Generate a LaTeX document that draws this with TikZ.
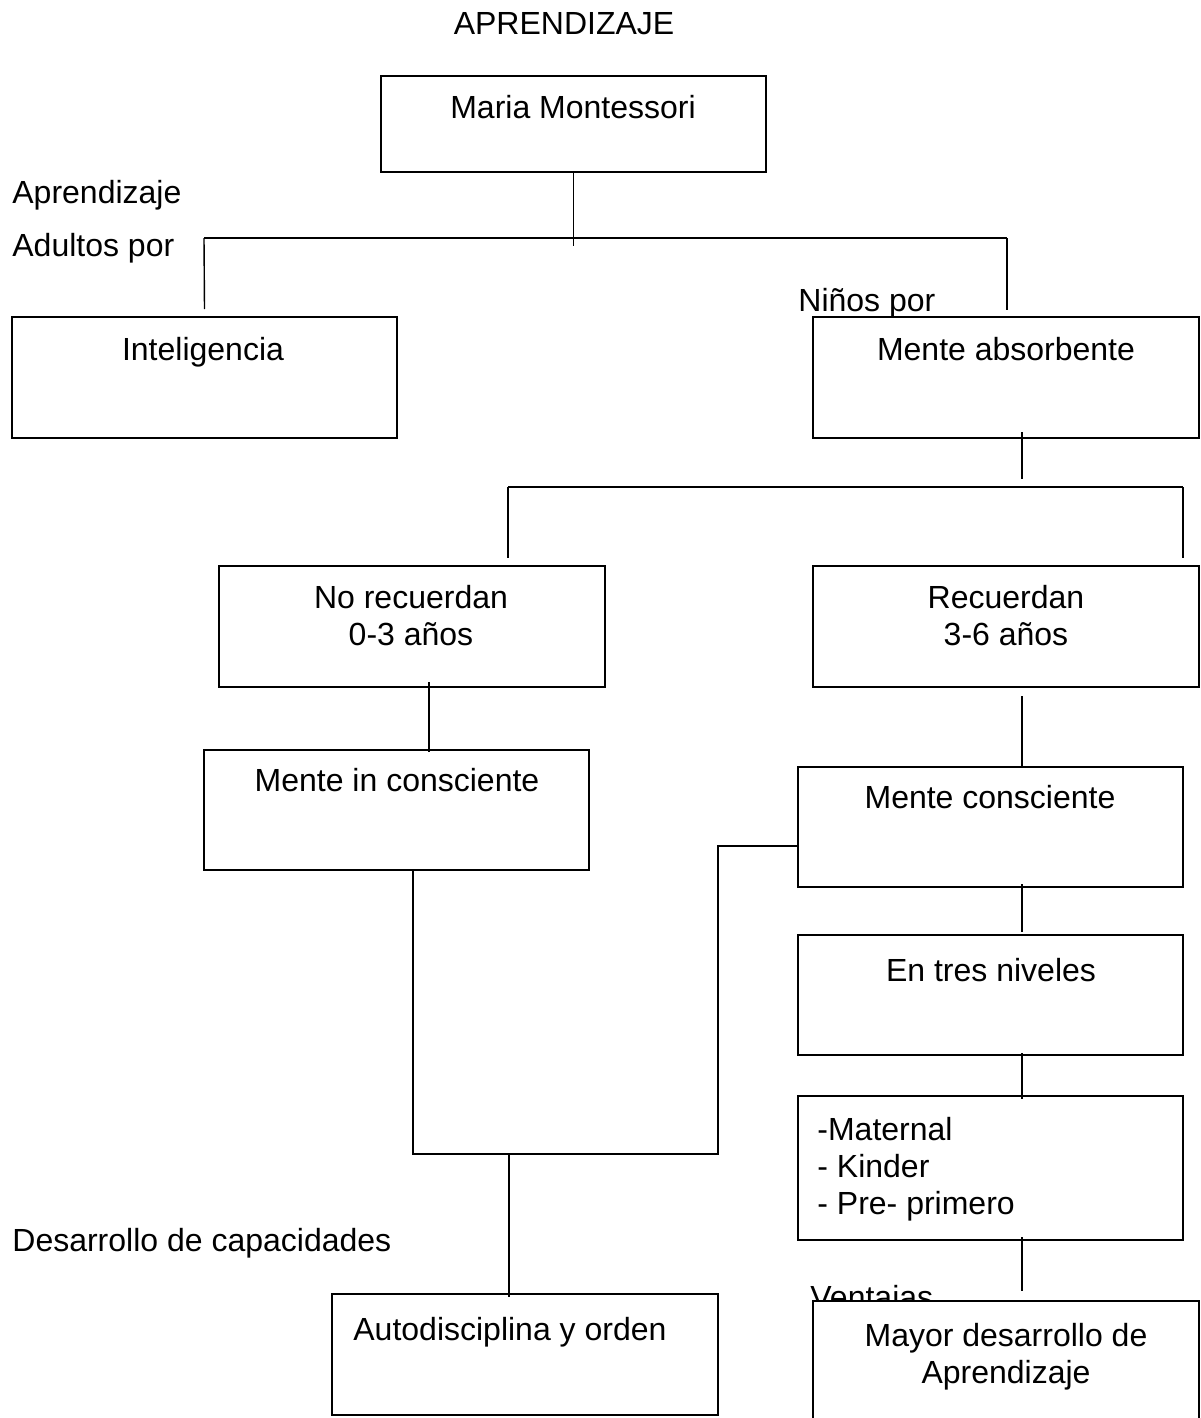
\documentclass[tikz,border=0pt]{standalone}
\usepackage{fontspec}
\setmainfont{Liberation Sans}
\usetikzlibrary{calc}
\begin{document}
\begin{tikzpicture}[x=0.5pt,y=-0.5pt,
  box/.style={draw, line width=1pt, inner sep=0pt},
  txt/.style={inner sep=0pt, font=\fontsize{16}{18.4}\selectfont, align=center, anchor=north},
  ltxt/.style={inner sep=0pt, font=\fontsize{16}{18.4}\selectfont, align=left, anchor=north west},
  conn/.style={line width=0.7pt},
  bar/.style={line width=1pt}]
\fill[white] (0,0) rectangle (1200,1418);
\useasboundingbox (0,0) rectangle (1200,1418);

% title and free labels
\node[txt] (title) at (564,12) {APRENDIZAJE};
\node[ltxt] (lapr) at (12,180) {Aprendizaje};
\node[ltxt] (ladu) at (12,233) {Adultos por};
\node[ltxt] (lnin) at (798,288) {Niños por};
\node[ltxt] (ldes) at (12,1228) {Desarrollo de capacidades};
\node[ltxt] (lven) at (810,1285) {Ventajas};

% boxes
\node[box, minimum width=192.5pt, minimum height=48pt] (maria) at (573.5,124) {};
\node[box, minimum width=192.5pt, minimum height=60.5pt] (intel) at (204.5,377.5) {};
\node[box, minimum width=193pt, minimum height=60.5pt] (absorb) at (1006,377.5) {};
\node[box, minimum width=193pt, minimum height=60.5pt] (norec) at (412,626.5) {};
\node[box, minimum width=193pt, minimum height=60.5pt] (rec) at (1006,626.5) {};
\node[box, minimum width=192.5pt, minimum height=60pt] (incons) at (396.5,810) {};
\node[box, minimum width=192.5pt, minimum height=60pt] (cons) at (990.5,827) {};
\node[box, minimum width=192.5pt, minimum height=60pt] (tres) at (990.5,995) {};
\node[box, minimum width=192.5pt, minimum height=72pt] (niv) at (990.5,1168) {};
\node[box, minimum width=193pt, minimum height=60.5pt] (auto) at (525,1354.5) {};
\node[box, fill=white, minimum width=193pt, minimum height=61.5pt] (mayor) at (1006,1362.5) {};

% box texts
\node[txt] (tmaria) at (573,95) {Maria Montessori};
\node[txt] (tintel) at (203,337) {Inteligencia};
\node[txt] (tabsorb) at (1006,337) {Mente absorbente};
\node[txt] (tnorec) at (411,585) {No recuerdan\\0-3 años};
\node[txt] (trec) at (1006,585) {Recuerdan\\3-6 años};
\node[txt] (tincons) at (397,768) {Mente in consciente};
\node[txt] (tcons) at (990,785) {Mente consciente};
\node[txt] (ttres) at (991,958) {En tres niveles};
\node[ltxt] (tniv) at (817,1117) {-Maternal\\- Kinder\\- Pre- primero};
\node[ltxt] (tauto) at (353,1317) {Autodisciplina y orden};
\node[txt] (tmayor) at (1006,1323) {Mayor desarrollo de\\Aprendizaje};

% connectors
\coordinate (h1l) at (204,238);
\coordinate (h1r) at (1007,238);
\draw[conn] (maria.south) -- ++(0,73);
\draw[bar] (h1l) -- (h1r);
\draw[conn] (h1l) -- ($(intel.north)+(0,-7)$);
\draw[conn] (h1r) -- ++(0,72);

\draw[conn] ($(absorb.south)+(16,-7)$) -- ++(0,47);
\coordinate (h2l) at (508,487);
\coordinate (h2r) at (1183,487);
\draw[bar] (h2l) -- (h2r);
\draw[conn] (h2l) -- ++(0,71);
\draw[conn] (h2r) -- ++(0,71);

\draw[conn] ($(norec.south)+(17,-6)$) coordinate (c3a) -- ($(c3a |- incons.north)+(0,3)$);
\draw[conn] ($(rec.south)+(16,8)$) coordinate (c4a) -- (c4a |- cons.north);

\coordinate (j3) at (718,1154);
\draw[conn] ($(cons.west)+(0,19)$) -| (j3) -| ($(incons.south)+(16.5,0)$);
\coordinate (j4) at (509,1154);
\draw[conn] (j4) -- ($(j4 |- auto.north)+(0,4)$);

\draw[conn] ($(cons.south)+(31.5,-4)$) -- ++(0,48);
\draw[conn] ($(tres.south)+(31.5,-3)$) -- ++(0,46);
\draw[conn] ($(niv.south)+(31.5,-4)$) -- ++(0,54);
\end{tikzpicture}
\end{document}
